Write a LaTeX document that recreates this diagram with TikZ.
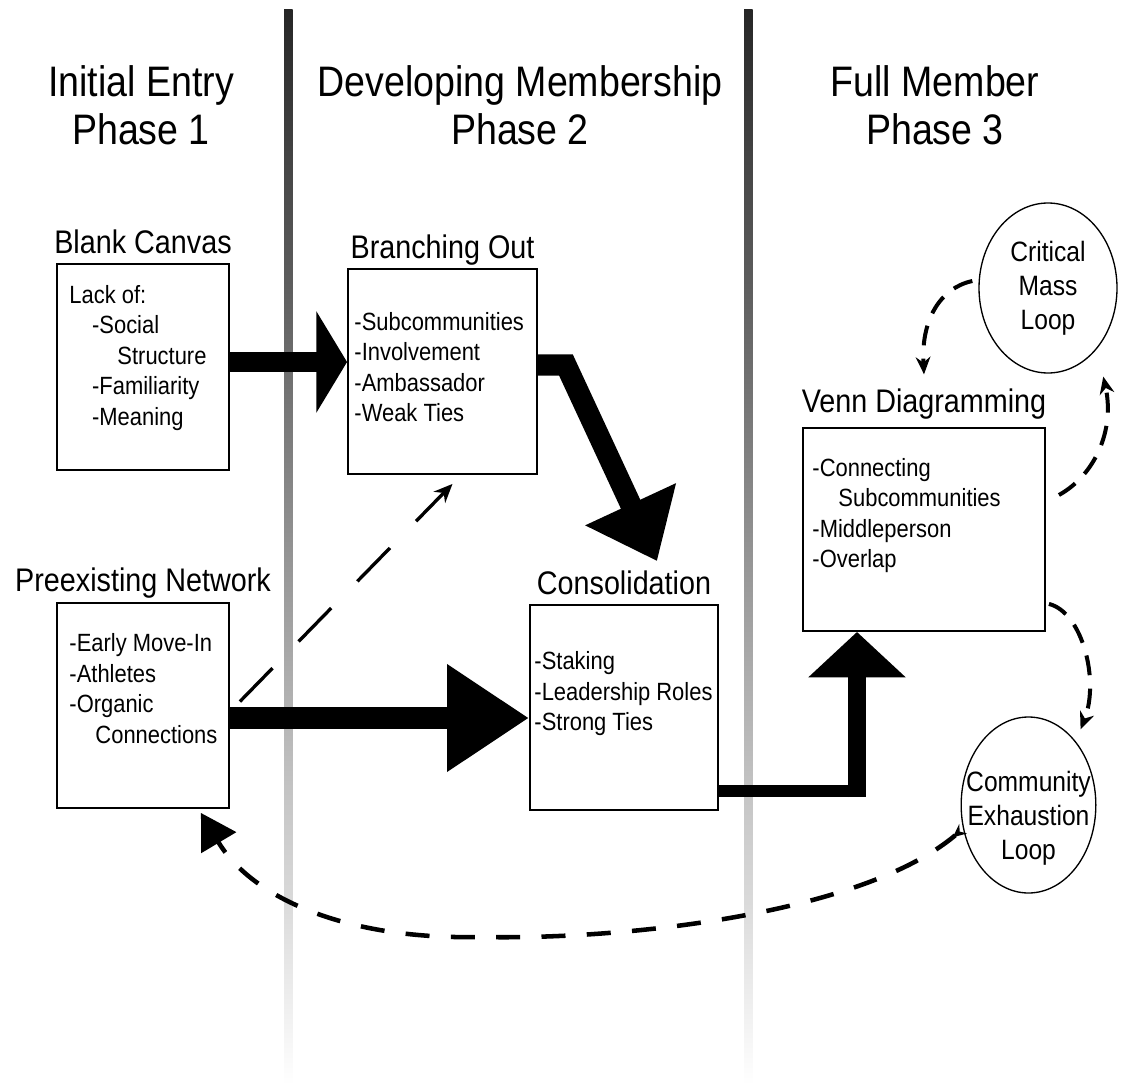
\documentclass[tikz,border=0pt]{standalone}
\usepackage{fontspec}
\setmainfont{Liberation Sans}[FakeStretch=0.88]
\usetikzlibrary{arrows.meta,shapes.geometric}

\begin{document}
\begin{tikzpicture}[x=0.75pt,y=-0.75pt,semithick,line join=miter,
    phase/.style={align=center,font=\fontsize{32}{36}\selectfont},
    title/.style={anchor=base,inner sep=0pt,font=\fontsize{24.5}{28}\selectfont},
    box/.style={draw,line width=1.4pt,inner sep=0pt},
    items/.style={anchor=west,align=left,inner sep=0pt,font=\fontsize{18.7}{22.9}\selectfont},
    loop/.style={draw,ellipse,line width=1pt,inner sep=0pt},
    looptext/.style={align=center,font=\fontsize{21}{25.5}\selectfont},
    fat/.style={line width=#1},
    dashlink/.style={line width=2.5pt,dash pattern=on 35pt off 28pt,
      -{Stealth[length=14pt,width=12pt]}},
    loopdash/.style={line width=3pt,dash pattern=on 15pt off 10pt,
      -{Stealth[length=13pt,width=11pt]}}]

    \useasboundingbox (0,0) rectangle (1121,1088);
    \fill[white] (0,0) rectangle (1121,1088);

    % phase dividers
    \shade[top color=black!85,bottom color=white] (284,10) rectangle (292.5,1085);
    \shade[top color=black!85,bottom color=white] (744,10) rectangle (752.5,1085);

    % phase headings
    \node[phase] (ph1) at (141,105) {Initial Entry\\Phase 1};
    \node[phase] (ph2) at (520,105) {Developing Membership\\Phase 2};
    \node[phase] (ph3) at (935,105) {Full Member\\Phase 3};

    % boxes
    \node[box,minimum width=129pt,minimum height=154.5pt] (bc) at (143,367) {};
    \node[box,minimum width=141.75pt,minimum height=153.75pt] (bo) at (442.5,371.5) {};
    \node[box,minimum width=129pt,minimum height=153.75pt] (pn) at (143,705.5) {};
    \node[box,minimum width=141pt,minimum height=153.75pt] (co) at (624,707.5) {};
    \node[box,minimum width=181.5pt,minimum height=152.25pt] (vd) at (924,529.5) {};

    \node[title] (bct) at ([yshift=7pt]bc.north) {Blank Canvas};
    \node[title] (bot) at ([yshift=7pt]bo.north) {Branching Out};
    \node[title] (pnt) at ([yshift=8pt]pn.north) {Preexisting Network};
    \node[title] (cot) at ([yshift=7pt]co.north) {Consolidation};
    \node[title] (vdt) at ([yshift=11pt]vd.north) {Venn Diagramming};

    \node[items] (bcx) at ([shift={(13,-9)}]bc.west)
      {Lack of:\\\hspace*{17pt}-Social\\\hspace*{36pt}Structure\\\hspace*{17pt}-Familiarity\\\hspace*{17pt}-Meaning};
    \node[items] (box) at ([shift={(7,-4.5)}]bo.west)
      {-Subcommunities\\-Involvement\\-Ambassador\\-Weak Ties};
    \node[items] (pnx) at ([shift={(13,-17)}]pn.west)
      {-Early Move-In\\-Athletes\\-Organic\\\hspace*{19.5pt}Connections};
    \node[items] (cox) at ([shift={(5,-13.5)}]co.west)
      {-Staking\\-Leadership Roles\\-Strong Ties};
    \node[items] (vdx) at ([shift={(10,-14)}]vd.west)
      {-Connecting\\\hspace*{19.5pt}Subcommunities\\-Middleperson\\-Overlap};

    % loops
    \node[loop,minimum width=103.5pt,minimum height=127.5pt,
      label={[looptext]center:Critical\\Mass\\Loop}] (cm) at (1048,288) {};
    \node[loop,minimum width=101pt,minimum height=132pt,
      label={[looptext,yshift=-10pt]center:Community\\Exhaustion\\Loop}] (ce) at (1028.5,805) {};

    % main flow
    \draw[fat=15pt,-{Triangle[length=23pt,width=75pt]}] (bc.east |- 0,362) -- (bo.west |- 0,362);
    \draw[fat=16pt,-{Triangle[length=47pt,width=72pt]}] (bo.east |- 0,365) -- ++(28,0)
      -- ([shift={(33,-43)}]co.north);
    \draw[fat=16.5pt,-{Triangle[length=61.5pt,width=76.5pt]}] (pn.east |- 0,718) -- (co.west |- 0,718);
    \coordinate (bend) at (857,791);
    \draw[fat=9pt] (co.east |- bend) -- ([xshift=6.75pt]bend);
    \draw[fat=13.5pt,-{Triangle[length=34pt,width=71pt]}] ([yshift=-4.5pt]bend) -- (vd.south -| bend);

    % dashed links
    \draw[dashlink] ([shift={(10,-4)}]pn.east) -- ([shift={(10,9)}]bo.south);
    \draw[loopdash] ([shift={(-6,-7)}]cm.west) .. controls (940,288) and (921,320)
      .. ([yshift=10.5pt]vdt.north);
    \draw[loopdash] ([shift={(13,-34.5)}]vd.east) .. controls (1095,475) and (1115,430)
      .. ([shift={(6,28)}]cm.south east);
    \draw[loopdash] ([shift={(3,-28)}]vd.south east) .. controls (1082,612) and (1100,680)
      .. ([shift={(4,-13)}]ce.north east);
    \draw[line width=3.4pt,dash pattern=on 18pt off 16pt,
      {Stealth[reversed,length=10pt,width=9pt]}-{Triangle[length=26pt,width=30pt]}]
      (ce.200) .. controls (860,915) and (620,940) .. (481,937)
      .. controls (340,940) and (250,895) .. ([shift={(-29,4)}]pn.south east);
\end{tikzpicture}
\end{document}
